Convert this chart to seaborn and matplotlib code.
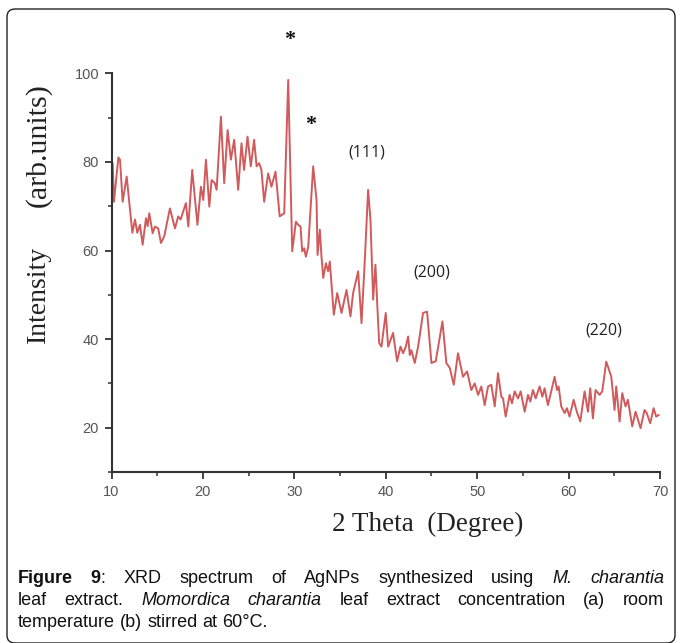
import matplotlib
matplotlib.use("Agg")
import matplotlib.pyplot as plt
import seaborn as sns
from matplotlib.patches import FancyBboxPatch
from matplotlib.ticker import MultipleLocator

# ---- data (2theta in degrees, intensity arb. units) ----
two_theta = [
    10.13, 10.27, 10.75, 10.93, 11.22, 11.66, 12.28, 12.57, 12.82, 13.11,
    13.41, 13.77, 13.95, 14.13, 14.50, 14.75, 15.11, 15.41, 15.77, 16.39,
    16.94, 17.30, 17.56, 18.14, 18.40, 18.83, 19.40, 19.78, 20.04, 20.33,
    20.70, 20.95, 21.30, 21.50, 21.97, 22.33, 22.70, 23.06, 23.42, 23.86,
    24.22, 24.50, 24.88, 25.24, 25.60, 25.87, 26.15, 26.40, 26.70, 27.14,
    27.50, 27.94, 28.40, 28.89, 29.33, 29.77, 30.17, 30.42, 30.68, 30.86,
    31.08, 31.26, 31.52, 32.06, 32.43, 32.54, 32.79, 32.97, 33.16, 33.45,
    33.70, 33.88, 34.32, 34.69, 35.16, 35.71, 36.14, 36.43, 36.98, 37.35,
    37.71, 38.07, 38.33, 38.62, 38.87, 39.09, 39.28, 39.53, 40.00, 40.26,
    40.80, 41.24, 41.61, 41.90, 42.19, 42.45, 42.63, 42.80, 43.17, 43.54,
    44.08, 44.52, 45.00, 45.47, 46.20, 46.63, 47.00, 47.44, 47.90, 48.45,
    48.90, 49.36, 49.73, 50.10, 50.46, 50.82, 51.19, 51.55, 51.92, 52.28,
    52.64, 52.83, 53.12, 53.55, 53.81, 54.10, 54.47, 54.76, 55.20, 55.56,
    55.81, 56.10, 56.40, 56.83, 57.13, 57.38, 57.74, 58.10, 58.47, 58.73,
    58.91, 59.20, 59.57, 59.82, 60.10, 60.55, 60.90, 61.28, 61.75, 62.12,
    62.37, 62.66, 62.95, 63.39, 63.68, 64.12, 64.37, 64.67, 65.03, 65.21,
    65.58, 65.87, 66.23, 66.49, 66.96, 67.33, 67.87, 68.31, 68.55, 68.93,
    69.30, 69.58, 69.87,
]
intensity = [
    79.7, 71.0, 81.0, 80.5, 71.0, 76.7, 64.0, 67.0, 64.0, 65.8,
    61.3, 67.3, 65.5, 68.4, 63.9, 65.4, 65.0, 61.7, 63.2, 69.5,
    65.0, 67.7, 67.0, 70.7, 65.4, 78.2, 65.8, 74.4, 71.4, 80.5,
    69.9, 75.9, 75.2, 73.7, 90.2, 75.2, 87.2, 80.5, 85.0, 73.7,
    84.2, 78.2, 85.7, 79.0, 85.0, 79.0, 79.7, 78.2, 71.0, 77.4,
    74.4, 77.8, 67.7, 68.4, 98.5, 59.8, 66.5, 65.8, 65.4, 59.8,
    60.5, 58.6, 60.8, 79.0, 71.4, 59.0, 64.7, 58.6, 53.8, 57.1,
    55.3, 57.5, 45.5, 50.4, 45.9, 51.1, 45.1, 50.4, 55.3, 43.6,
    57.9, 73.7, 66.9, 48.9, 56.8, 47.0, 39.1, 38.3, 45.9, 38.3,
    41.4, 35.0, 38.3, 36.8, 38.3, 40.6, 36.4, 37.5, 34.6, 38.3,
    45.9, 46.2, 34.6, 35.0, 44.0, 34.6, 33.5, 29.7, 36.8, 31.5,
    32.7, 28.5, 30.0, 27.4, 29.3, 25.1, 29.3, 29.7, 24.8, 32.3,
    27.0, 26.6, 22.5, 27.4, 25.5, 28.2, 26.6, 28.2, 23.6, 27.4,
    25.9, 28.5, 26.6, 29.3, 27.0, 28.9, 25.1, 28.2, 31.5, 28.5,
    29.3, 24.8, 23.3, 24.4, 22.5, 26.3, 23.6, 21.4, 28.2, 23.6,
    28.9, 22.1, 28.5, 27.4, 28.2, 34.9, 33.4, 31.5, 24.0, 29.3,
    21.4, 27.8, 24.8, 26.3, 20.3, 23.6, 19.9, 24.0, 23.3, 21.0,
    24.4, 22.5, 22.9,
]

peak_labels = ["*", "*", "(111)", "(200)", "(220)"]
peak_x = [29.5, 31.8, 37.9, 45.0, 63.8]
peak_y = [107.5, 88.3, 82.2, 55.1, 42.0]

x_ticks = [10, 20, 30, 40, 50, 60, 70]
y_ticks = [20, 40, 60, 80, 100]

caption_lines = [
    [[("Figure", "bold")], [("9", "bold"), (":", "normal")], [("XRD", "normal")],
     [("spectrum", "normal")], [("of", "normal")], [("AgNPs", "normal")],
     [("synthesized", "normal")], [("using", "normal")], [("M.", "italic")],
     [("charantia", "italic")]],
    [[("leaf", "normal")], [("extract.", "normal")], [("Momordica", "italic")],
     [("charantia", "italic")], [("leaf", "normal")], [("extract", "normal")],
     [("concentration", "normal")], [("(a)", "normal")], [("room", "normal")]],
    [[("temperature", "normal")], [("(b)", "normal")], [("stirred", "normal")],
     [("at", "normal")], [("60°C.", "normal")]],
]

# ---- style ----
sns.set_style("ticks")
plt.rcParams['font.family'] = ['Liberation Sans', 'DejaVu Sans']

W, H = 683, 643
fig = plt.figure(figsize=(W / 100, H / 100), dpi=100)
fig.patch.set_facecolor("white")

# rounded frame around figure
frame = FancyBboxPatch((7 / W, 0.0), (675 - 7) / W, (634 - 0) / H,
                       boxstyle="round,pad=0,rounding_size=0.012",
                       transform=fig.transFigure, fill=False,
                       edgecolor="#222222", linewidth=1.0)
fig.patches.append(frame)

ax = fig.add_axes([111.5 / W, 1 - 472 / H, (660 - 111.5) / W, (472 - 73.3) / H])
sns.lineplot(x=two_theta, y=intensity, ax=ax, color="#d05a5c", linewidth=1.4)

ax.set_xlim(10, 70)
ax.set_ylim(10, 100)
ax.set_xticks(x_ticks)
ax.set_yticks(y_ticks)
ax.xaxis.set_minor_locator(MultipleLocator(5))
ax.yaxis.set_minor_locator(MultipleLocator(10))
sns.despine(ax=ax)
for s in ("left", "bottom"):
    ax.spines[s].set_linewidth(1.5)
    ax.spines[s].set_color("#333333")
ax.tick_params(which="major", direction="out", length=5, width=1.3,
               color="#333333", labelsize=10.5, labelcolor="#555555", pad=4)
ax.tick_params(which="minor", direction="out", length=3, width=1.1, color="#333333")

ax.set_xlabel("")
ax.set_ylabel("")

serif = ['Liberation Serif', 'DejaVu Serif']
fig.text(428 / W, 1 - 524 / H, "2 Theta  (Degree)", family=serif, fontsize=19.5,
         ha="center", va="center", color="#222222")
fig.text(38 / W, 1 - 294 / H, "Intensity", family=serif, fontsize=20,
         rotation=90, ha="center", va="center", color="#222222")
fig.text(38 / W, 1 - 145 / H, "(arb.units)", family=serif, fontsize=21.5,
         rotation=90, ha="center", va="center", color="#222222")

for lab, px, py in zip(peak_labels, peak_x, peak_y):
    if lab == "*":
        ax.text(px, py, lab, fontsize=16, fontweight="bold", ha="center", va="center",
                family=serif, color="#111111")
    else:
        ax.text(px, py, lab, fontsize=11.5, ha="center", va="center",
                family=['Open Sans', 'DejaVu Sans'], color="#222222")

# ---- caption, justified ----
renderer = fig.canvas.get_renderer()
cap_size = 13
x_left, x_right = 18, 664
baselines = [583, 605, 627]


def style_kw(st):
    if st == "bold":
        return dict(fontweight="bold")
    if st == "italic":
        return dict(fontstyle="italic")
    return {}


for li, words in enumerate(caption_lines):
    word_widths = []
    for w in words:
        tot = 0
        for txt, st in w:
            t = fig.text(0, 0, txt, fontsize=cap_size, **style_kw(st))
            tot += t.get_window_extent(renderer).width
            t.remove()
        word_widths.append(tot)
    sp = fig.text(0, 0, "a a", fontsize=cap_size)
    sw = sp.get_window_extent(renderer).width
    sp.remove()
    aa = fig.text(0, 0, "aa", fontsize=cap_size)
    sw -= aa.get_window_extent(renderer).width
    aa.remove()
    if li < len(caption_lines) - 1:
        gap = (x_right - x_left - sum(word_widths)) / (len(words) - 1)
    else:
        gap = sw
    x = x_left
    for w, ww in zip(words, word_widths):
        xx = x
        for txt, st in w:
            t = fig.text(xx / W, 1 - baselines[li] / H, txt, fontsize=cap_size,
                         va="baseline", ha="left", color="#111111", **style_kw(st))
            xx += t.get_window_extent(renderer).width
        x += ww + gap

fig.savefig("out.png", dpi=100)
